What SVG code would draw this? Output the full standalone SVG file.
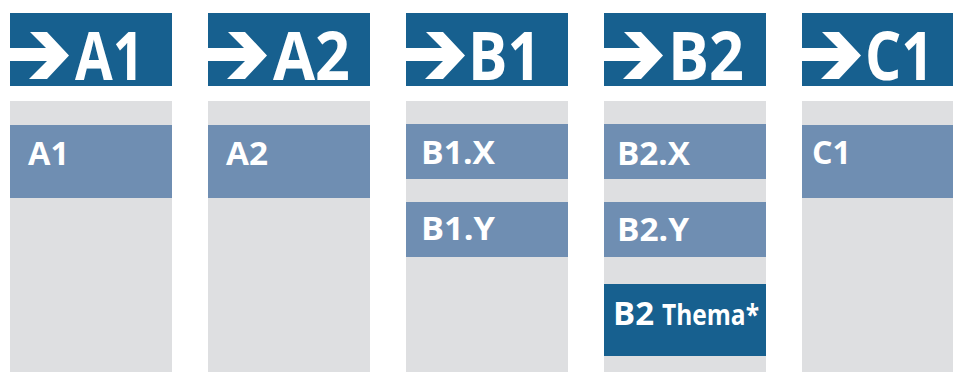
<svg xmlns="http://www.w3.org/2000/svg" width="953" height="372" viewBox="0 0 953 372">
<defs>
<style>
.hdr{fill:#17608F}
.col{fill:#DEDFE1}
.box{fill:#6F8EB2}
.dark{fill:#17608F}
.arrow{fill:#FFFFFF}
.ht{font-family:"Open Sans","DejaVu Sans",sans-serif;font-weight:700;font-size:66px;fill:#FFFFFF}
.lt{font-family:"Open Sans","DejaVu Sans",sans-serif;font-weight:700;font-size:33px;fill:#FFFFFF}
.st{font-family:"Open Sans","DejaVu Sans",sans-serif;font-weight:700;font-size:28px;fill:#FFFFFF}
</style>
<polygon id="arr" class="arrow" points="0,48 36,48 20,32 37,32 59,55.5 37,79 19,79 37,61 0,61"/>
</defs>
<rect width="953" height="372" fill="#FFFFFF"/>

<g id="col-A1">
<rect class="hdr" x="10" y="13" width="162" height="73"/>
<use href="#arr" x="10"/>
<text class="ht" x="75" y="80" textLength="69" lengthAdjust="spacingAndGlyphs">A1</text>
<rect class="col" x="10" y="101" width="162" height="271"/>
<g id="node-A1">
<rect class="box" x="10" y="125" width="162" height="73"/>
<text class="lt" x="28" y="165" textLength="41" lengthAdjust="spacingAndGlyphs">A1</text>
</g>
</g>

<g id="col-A2">
<rect class="hdr" x="208" y="13" width="162" height="73"/>
<use href="#arr" x="208"/>
<text class="ht" x="273" y="80" textLength="77" lengthAdjust="spacingAndGlyphs">A2</text>
<rect class="col" x="208" y="101" width="162" height="271"/>
<g id="node-A2">
<rect class="box" x="208" y="125" width="162" height="73"/>
<text class="lt" x="226" y="165" textLength="42" lengthAdjust="spacingAndGlyphs">A2</text>
</g>
</g>

<g id="col-B1">
<rect class="hdr" x="406" y="13" width="162" height="73"/>
<use href="#arr" x="406"/>
<text class="ht" x="468" y="80" textLength="73" lengthAdjust="spacingAndGlyphs">B1</text>
<rect class="col" x="406" y="101" width="162" height="271"/>
<g id="node-B1X">
<rect class="box" x="406" y="124" width="162" height="55"/>
<text class="lt" x="421" y="164" textLength="74" lengthAdjust="spacingAndGlyphs">B1.X</text>
</g>
<g id="node-B1Y">
<rect class="box" x="406" y="202" width="162" height="55"/>
<text class="lt" x="421" y="240" textLength="74" lengthAdjust="spacingAndGlyphs">B1.Y</text>
</g>
</g>

<g id="col-B2">
<rect class="hdr" x="604" y="13" width="162" height="73"/>
<use href="#arr" x="604"/>
<text class="ht" x="668" y="80" textLength="76" lengthAdjust="spacingAndGlyphs">B2</text>
<rect class="col" x="604" y="101" width="162" height="271"/>
<g id="node-B2X">
<rect class="box" x="604" y="124" width="162" height="55"/>
<text class="lt" x="617" y="165" textLength="73" lengthAdjust="spacingAndGlyphs">B2.X</text>
</g>
<g id="node-B2Y">
<rect class="box" x="604" y="202" width="162" height="55"/>
<text class="lt" x="617" y="241" textLength="72" lengthAdjust="spacingAndGlyphs">B2.Y</text>
</g>
<g id="node-B2T">
<rect class="dark" x="604" y="284" width="162" height="72"/>
<text class="lt" x="613" y="325" font-size="35" textLength="41" lengthAdjust="spacingAndGlyphs">B2</text>
<text class="st" x="662" y="325" textLength="97" lengthAdjust="spacingAndGlyphs">Thema*</text>
</g>
</g>

<g id="col-C1">
<rect class="hdr" x="802" y="13" width="162" height="73"/>
<use href="#arr" x="802"/>
<text class="ht" x="865" y="80" textLength="69" lengthAdjust="spacingAndGlyphs">C1</text>
<rect class="col" x="802" y="101" width="162" height="271"/>
<g id="node-C1">
<rect class="box" x="802" y="125" width="162" height="73"/>
<text class="lt" x="812" y="164" textLength="39" lengthAdjust="spacingAndGlyphs">C1</text>
</g>
</g>
</svg>
